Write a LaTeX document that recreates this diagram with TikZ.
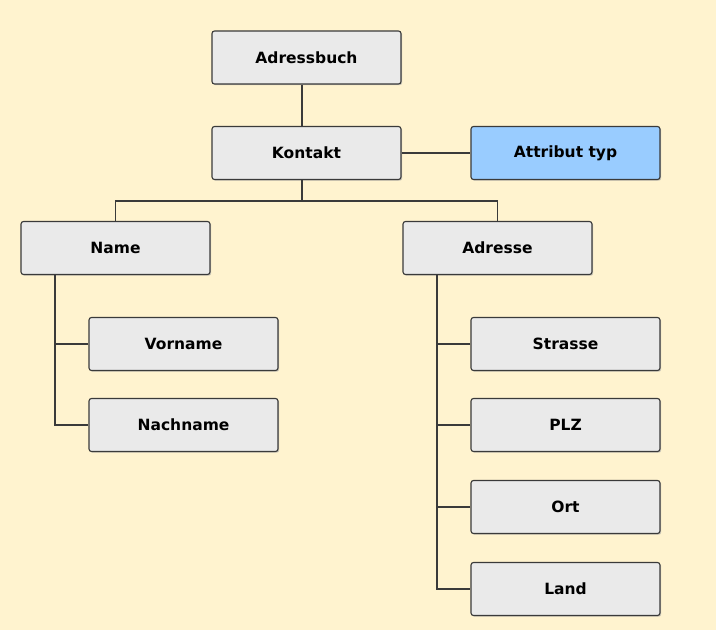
\documentclass[tikz,border=0pt]{standalone}
\usepackage{fontspec}
\setmainfont{DejaVu Sans}
\usetikzlibrary{shadows}

\definecolor{paper}{HTML}{FFF3CF}
\definecolor{boxgray}{HTML}{EAEAEA}
\definecolor{boxblue}{HTML}{99CCFF}
\definecolor{edge}{HTML}{3A3A3A}

\tikzset{
  entity/.style={draw=edge, line width=1.1pt, fill=boxgray, rounded corners=2.5pt,
    minimum width=189pt, minimum height=53pt, inner sep=0pt,
    font=\fontsize{15.5}{18}\selectfont\bfseries,
    drop shadow={shadow xshift=1.2pt, shadow yshift=-1.2pt, fill=black!35, opacity=.6}},
  typbox/.style={entity, fill=boxblue},
  link/.style={draw=edge, line width=1.2pt}
}

\begin{document}
\begin{tikzpicture}[x=1pt,y=-1pt]
	\fill[paper] (0,0) rectangle (716,630);
	\useasboundingbox (0,0) rectangle (716,630);
	
	\node[entity] (adressbuch) at (306.5,57.5) {Adressbuch};
	\node[entity] (kontakt) at (306.5,153) {Kontakt};
	\node[typbox] (attribut) at (565.5,153) {Attribut typ};
	
	\node[entity] (name) at (115.5,248) {Name};
	\node[entity] (adresse) at (497.5,248) {Adresse};
	
	\node[entity] (vorname) at (183.5,344) {Vorname};
	\node[entity] (nachname) at (183.5,425) {Nachname};
	
	\node[entity] (strasse) at (565.5,344) {Strasse};
	\node[entity] (plz) at (565.5,425) {PLZ};
	\node[entity] (ort) at (565.5,507) {Ort};
	\node[entity] (land) at (565.5,589) {Land};
	
	\coordinate (split) at (302,201);
	\coordinate (namestem) at (55,0);
	\coordinate (adrstem) at (437,0);
	
	\draw[link] ([xshift=-4.5pt]adressbuch.south) -- ([xshift=-4.5pt]kontakt.north);
	\draw[link] (kontakt.east) -- (attribut.west);
	\draw[link] ([xshift=-4.5pt]kontakt.south) -- (split);
	\draw[link] (name.north) |- (split) -| (adresse.north);
	
	\draw[link] (name.south -| namestem) |- (nachname.west);
	\draw[link] (vorname.west) -- (vorname.west -| namestem);
	
	\draw[link] (adresse.south -| adrstem) |- (land.west);
	\foreach \n in {strasse,plz,ort}
		\draw[link] (\n.west) -- (\n.west -| adrstem);
\end{tikzpicture}
\end{document}
